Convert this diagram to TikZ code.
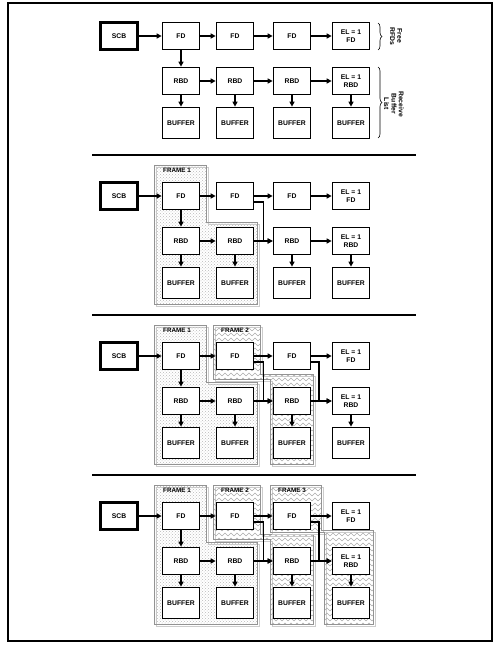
\documentclass[tikz,border=0pt]{standalone}
\usepackage{fontspec}
\setmainfont{Liberation Sans}
\usetikzlibrary{arrows.meta,patterns,decorations.pathreplacing}
\tikzset{
    >={Triangle[length=5pt,width=5pt]},
    every edge/.style={draw,->,line width=1.3pt}
}
\pgfdeclarepatternformonly{zigzag}{\pgfqpoint{-1pt}{-1pt}}{\pgfqpoint{7pt}{7pt}}{\pgfqpoint{6pt}{5pt}}{
    \pgfsetlinewidth{0.45pt}
    \pgfpathmoveto{\pgfqpoint{0pt}{1pt}}
    \pgfpathlineto{\pgfqpoint{3pt}{4pt}}
    \pgfpathlineto{\pgfqpoint{6pt}{1pt}}
    \pgfusepath{stroke}
}

\begin{document}
\begin{tikzpicture}[x=1pt,y=-1pt,
                    box/.style={draw,line width=1.7pt,fill=white,minimum width=37pt,
                                minimum height=27pt,inner sep=0pt,align=center,
                                font=\fontsize{6.8}{8.2}\selectfont\bfseries},
                    bufbox/.style={box,minimum height=31pt},
                    scbbox/.style={box,line width=2.8pt},
                    link/.style={draw,->,line width=1.3pt},
                    dotframe/.style={draw=gray!85,line width=0.6pt,pattern=crosshatch dots,pattern color=gray!55},
                    zigframe/.style={draw=gray!85,line width=0.6pt,pattern=zigzag,pattern color=gray!65},
                    shadow/.style={draw=gray!40,line width=0.6pt,shift={(2,2)}},
                    framelabel/.style={anchor=west,inner sep=0pt,font=\fontsize{6.3}{7}\selectfont\bfseries},
                    sidelabel/.style={rotate=-90,align=center,font=\fontsize{6.8}{7.4}\selectfont\bfseries}]

\useasboundingbox (0,0) rectangle (500,647);
\draw[line width=1.2pt] (8,3) rectangle (492,641);

% Separators
\foreach \y in {155,315,475}
    \draw[line width=1.8pt] (92,\y) -- (416,\y);

% Frames
\foreach \b in {196,356,516} {
    \draw[shadow] (154,\b-31) -- (206,\b-31) -- (206,\b+26) -- (257,\b+26) -- (257,\b+108) -- (154,\b+108) -- cycle;
    \path[dotframe] (154,\b-31) -- (206,\b-31) -- (206,\b+26) -- (257,\b+26) -- (257,\b+108) -- (154,\b+108) -- cycle;
    \node[framelabel] (fl1) at (163,\b-26) {FRAME 1};
}
\foreach \b in {356,516} {
    \draw[shadow] (213,\b-31) -- (260,\b-31) -- (260,\b+18) -- (313,\b+18) -- (313,\b+108) -- (270,\b+108) -- (270,\b+23) -- (213,\b+23) -- cycle;
    \path[zigframe] (213,\b-31) -- (260,\b-31) -- (260,\b+18) -- (313,\b+18) -- (313,\b+108) -- (270,\b+108) -- (270,\b+23) -- (213,\b+23) -- cycle;
    \node[framelabel] (fl2) at (221,\b-26) {FRAME 2};
}
\draw[shadow] (270,485) -- (321,485) -- (321,530) -- (373,530) -- (373,624) -- (324,624) -- (324,532) -- (270,532) -- cycle;
\path[zigframe] (270,485) -- (321,485) -- (321,530) -- (373,530) -- (373,624) -- (324,624) -- (324,532) -- (270,532) -- cycle;
\node[framelabel] (fl3) at (278,490) {FRAME 3};

% Descriptors
\foreach \p/\b in {1/36,2/196,3/356,4/516} {
    \node[scbbox] (scb\p) at (119,\b) {SCB};
    \node[box] (fd\p1) at (181,\b) {FD};
    \node[box] (fd\p2) at (235,\b) {FD};
    \node[box] (fd\p3) at (292,\b) {FD};
    \node[box] (fd\p4) at (351,\b) {EL = 1\\FD};
    \node[box] (rbd\p1) at (181,\b+45) {RBD};
    \node[box] (rbd\p2) at (235,\b+45) {RBD};
    \node[box] (rbd\p3) at (292,\b+45) {RBD};
    \node[box] (rbd\p4) at (351,\b+45) {EL = 1\\RBD};
    \node[bufbox] (buf\p1) at (181,\b+87) {BUFFER};
    \node[bufbox] (buf\p2) at (235,\b+87) {BUFFER};
    \node[bufbox] (buf\p3) at (292,\b+87) {BUFFER};
    \node[bufbox] (buf\p4) at (351,\b+87) {BUFFER};

    % Links
    \path (scb\p) edge (fd\p1) (fd\p1) edge (fd\p2) (fd\p2) edge (fd\p3) (fd\p3) edge (fd\p4);
    \path (fd\p1) edge (rbd\p1);
    \path (rbd\p1) edge (rbd\p2) (rbd\p2) edge (rbd\p3) (rbd\p3) edge (rbd\p4);
    \foreach \c in {1,...,4}
        \path (rbd\p\c) edge (buf\p\c);
}

% Frame links
\foreach \p in {2,3,4}
    \draw[link] ([yshift=-6pt]fd\p2.east) -- ++(9,0) |- (rbd\p3.west);
\foreach \p in {3,4}
    \draw[link] ([yshift=-6pt]fd\p3.east) -- ++(7.5,0) |- (rbd\p4.west);

% Braces
\draw[line width=0.6pt,decorate,decoration={brace,amplitude=4pt}] (378,23) -- (378,50);
\draw[line width=0.6pt,decorate,decoration={brace,amplitude=4pt}] (378,67) -- (378,138);
\node[sidelabel] (rfd) at (396,36) {Free\\RFDs};
\node[sidelabel] (rbl) at (394,104) {Receive\\Buffer\\List};

\end{tikzpicture}
\end{document}
